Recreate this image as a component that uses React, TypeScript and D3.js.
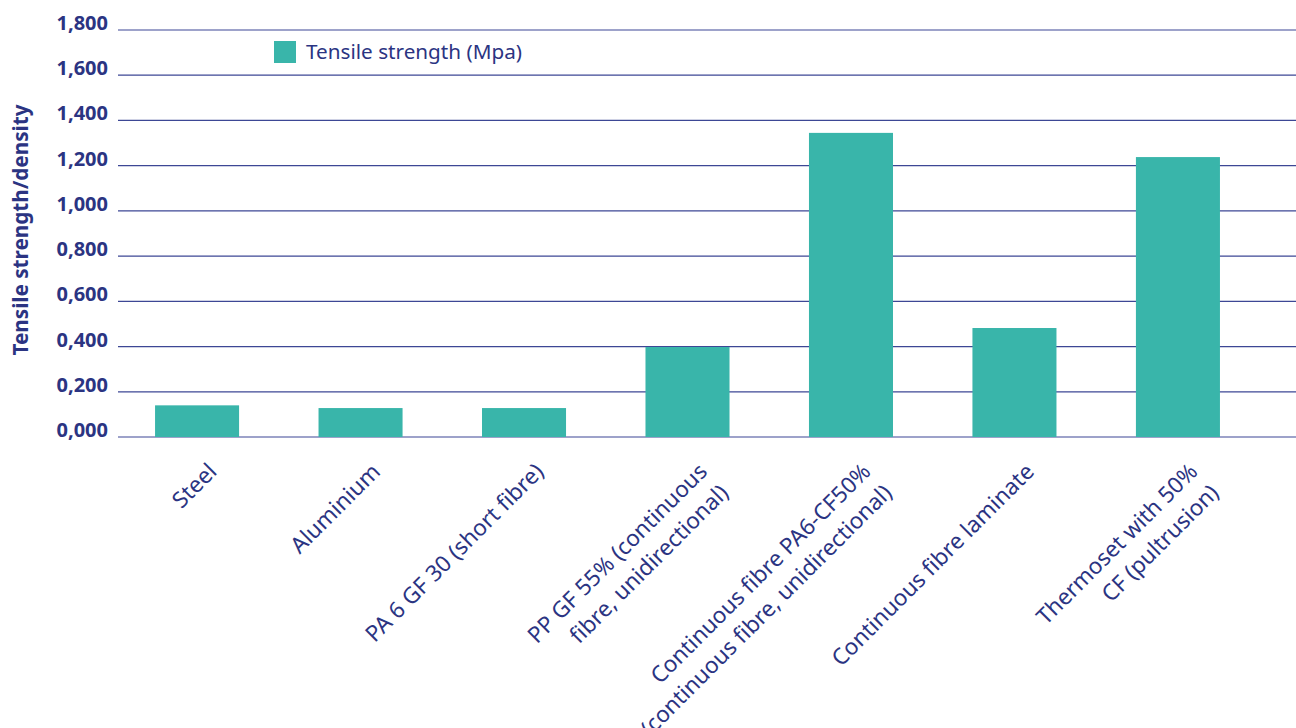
import React from "react";
import * as d3 from "d3";

const categories: string[][] = [
  ["Steel"],
  ["Aluminium"],
  ["PA 6 GF 30 (short fibre)"],
  ["PP GF 55% (continuous", "fibre, unidirectional)"],
  ["Continuous fibre PA6-CF50%", "(continuous fibre, unidirectional)"],
  ["Continuous fibre laminate"],
  ["Thermoset with 50%", "CF (pultrusion)"],
];
const values: number[] = [140, 128, 128, 398, 1345, 482, 1238];
const yTicks: number[] = [0, 200, 400, 600, 800, 1000, 1200, 1400, 1600, 1800];
const seriesName = "Tensile strength (Mpa)";
const yTitle = "Tensile strength/density";

const W = 1296;
const H = 728;
const NAVY = "#2b3482";
const GRID = "#3d4795";
const TEAL = "#39b5aa";
const FONT = "'Noto Sans', 'Open Sans', sans-serif";

export default function App() {
  const keys = categories.map((c) => c.join(" "));
  const x = d3
    .scaleBand<string>()
    .domain(keys)
    .range([115, 1260])
    .paddingInner(0.486)
    .paddingOuter(0.245);
  const y = d3.scaleLinear().domain([0, 1800]).range([437, 30]);
  const fmt = (d: number) => (d / 1000).toFixed(3).replace(".", ",");
  const bw = x.bandwidth();

  return (
    <svg
      width={W}
      height={H}
      style={{ position: "absolute", left: 0, top: 0, display: "block", background: "#fff" }}
      fontFamily={FONT}
    >
      {yTicks.map((t) => (
        <g key={t}>
          <line x1={118} x2={W} y1={y(t)} y2={y(t)} stroke={GRID} strokeWidth={1.2} />
          <text
            x={108}
            y={y(t)}
            textAnchor="end"
            fontSize={20}
            fontWeight={700}
            fill={NAVY}
          >
            {fmt(t)}
          </text>
        </g>
      ))}
      {values.map((v, i) => (
        <rect
          key={i}
          x={x(keys[i])}
          y={y(v)}
          width={bw}
          height={y(0) - y(v)}
          fill={TEAL}
        />
      ))}
      {categories.map((lines, i) => {
        const cx = (x(keys[i]) as number) + bw / 2;
        return (
          <text
            key={i}
            transform={`translate(${cx + 21},${y(0) + 36}) rotate(-45)`}
            textAnchor="end"
            fontSize={22.5}
            fill={NAVY}
          >
            {lines.map((l, j) => (
              <tspan key={j} x={0} dy={j === 0 ? 0 : 30}>
                {l}
              </tspan>
            ))}
          </text>
        );
      })}
      <text
        transform={`translate(28,230) rotate(-90)`}
        textAnchor="middle"
        fontSize={20.7}
        fontWeight={700}
        fill={NAVY}
      >
        {yTitle}
      </text>
      <rect x={274} y={41} width={22} height={22} fill={TEAL} />
      <text x={306} y={59} fontSize={20.7} fill={NAVY}>
        {seriesName}
      </text>
    </svg>
  );
}
